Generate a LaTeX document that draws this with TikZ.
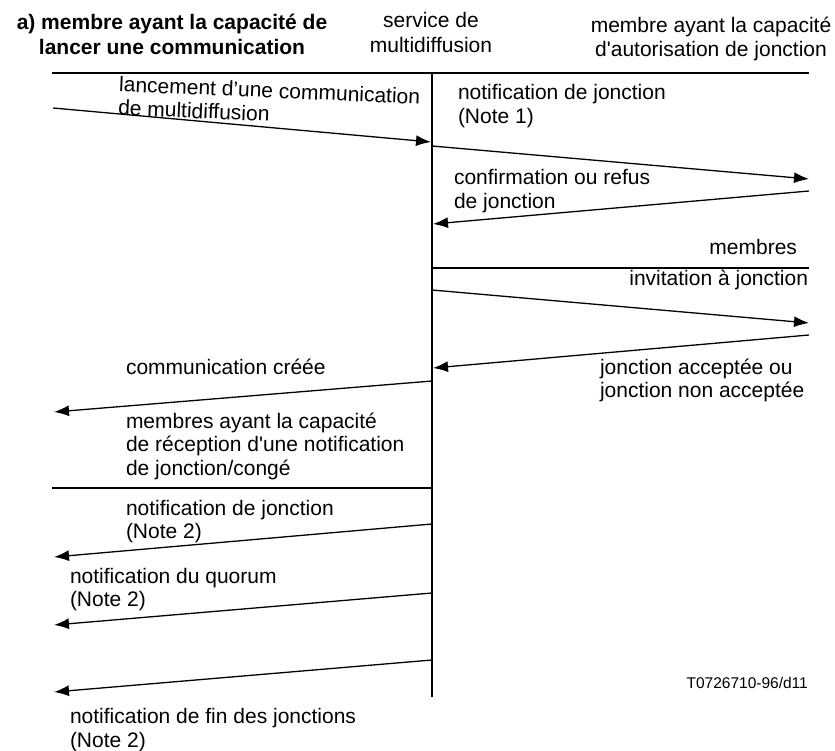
\documentclass[tikz,border=0pt]{standalone}
\usepackage{fontspec}
\setmainfont{Liberation Sans}
\usetikzlibrary{arrows.meta}
\begin{document}
\begin{tikzpicture}[x=1pt,y=-1pt,
  lbl/.style={inner sep=0pt, outer sep=0pt, align=left, anchor=base west, font=\fontsize{21}{23.5}\selectfont},
  lblr/.style={lbl, align=right, anchor=base east},
  hdr/.style={lbl, align=center, anchor=base},
  msg/.style={line width=1.3pt, -{Latex[length=15pt,width=11pt]}},
  bar/.style={line width=2.2pt},
  ref/.style={inner sep=0pt, anchor=base east, font=\fontsize{15.5}{18}\selectfont}]
\useasboundingbox (0,0) rectangle (835,751);

% headers (anchor = baseline of last line)
\node[hdr, font=\bfseries\fontsize{21}{25}\selectfont] (hA) at (172,55) {a) membre ayant la capacité de\\lancer une communication};
\node[hdr, font=\fontsize{21}{25}\selectfont] (hB) at (431,53) {service de\\multidiffusion};
\node[hdr, font=\fontsize{21}{23.5}\selectfont] (hC) at (711,56.5) {membre ayant la capacité\\d\textquotesingle autorisation de jonction};

% lifeline and separators
\coordinate (lt) at (432,73);
\coordinate (lb) at (432,697);
\coordinate (tl) at (52,73);
\coordinate (tr) at (809,73);
\coordinate (m1) at (431,268);
\coordinate (m2) at (809,268);
\coordinate (n1) at (52,488);
\coordinate (n2) at (433,488);
\draw[bar] (lt) -- (lb);
\draw[bar] (tl) -- (tr);
\draw[bar] (m1) -- (m2);
\draw[bar] (n1) -- (n2);

% messages
\coordinate (a1s) at (53,108);  \coordinate (a1e) at (431,142);
\coordinate (a2s) at (432,146); \coordinate (a2e) at (809,179);
\coordinate (a3s) at (809,191); \coordinate (a3e) at (433,224);
\coordinate (a4s) at (432,290); \coordinate (a4e) at (809,323);
\coordinate (a5s) at (809,335); \coordinate (a5e) at (433,368);
\coordinate (a6s) at (432,381); \coordinate (a6e) at (54,412);
\coordinate (a7s) at (432,524); \coordinate (a7e) at (54,557);
\coordinate (a8s) at (432,593); \coordinate (a8e) at (54,625);
\coordinate (a9s) at (432,660); \coordinate (a9e) at (54,692);
\draw[msg] (a1s) -- (a1e);
\draw[msg] (a2s) -- (a2e);
\draw[msg] (a3s) -- (a3e);
\draw[msg] (a4s) -- (a4e);
\draw[msg] (a5s) -- (a5e);
\draw[msg] (a6s) -- (a6e);
\draw[msg] (a7s) -- (a7e);
\draw[msg] (a8s) -- (a8e);
\draw[msg] (a9s) -- (a9e);

% labels (anchor = baseline of last line)
\node[lbl, rotate=-2.4] (l1) at (118,115) {lancement d'une communication\\de multidiffusion};
\node[lbl] (l2) at (458,123.5) {notification de jonction\\(Note 1)};
\node[lbl] (l3) at (454,208.5) {confirmation ou refus\\de jonction};
\node[lblr] (l4) at (797,255) {membres};
\node[lblr] (l5) at (808,286) {invitation à jonction};
\node[lbl] (l6) at (600,397.5) {jonction acceptée ou\\jonction non acceptée};
\node[lbl] (l7) at (126,374) {communication créée};
\node[lbl] (l8) at (126,475) {membres ayant la capacité\\de réception d\textquotesingle une notification\\de jonction/congé};
\node[lbl] (l9) at (126,538.5) {notification de jonction\\(Note 2)};
\node[lbl] (l10) at (70,606.5) {notification du quorum\\(Note 2)};
\node[lbl] (l11) at (70,747) {notification de fin des jonctions\\(Note 2)};
\node[ref] (rf) at (808,688) {T0726710-96/d11};
\end{tikzpicture}
\end{document}
